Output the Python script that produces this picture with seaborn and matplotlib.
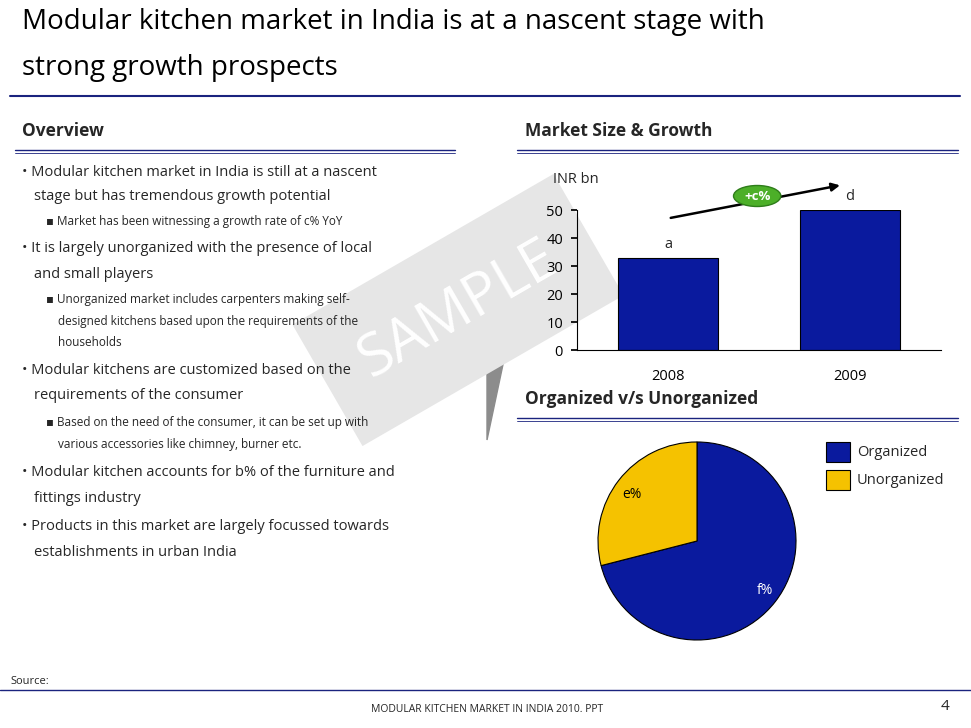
import matplotlib
matplotlib.use("Agg")
import matplotlib.pyplot as plt
import seaborn as sns
import pandas as pd
from matplotlib.patches import Polygon, Ellipse

years = ["2008", "2009"]
market_size = [33, 50]
bar_labels = ["a", "d"]
pie_labels = ["Organized", "Unorganized"]
pie_values = [71, 29]
pie_text = ["f%", "e%"]
growth_label = "+c%"

sns.set_theme(style="white")
plt.rcParams['font.family'] = ['Open Sans', 'DejaVu Sans']

W, H = 971, 728
fig = plt.figure(figsize=(9.71, 7.28), dpi=100)
def fx(x): return x / W
def fy(y): return 1 - y / H
navy = "#0a1a9e"

bg = fig.add_axes([0, 0, 1, 1], zorder=-5)
bg.set_xlim(0, W); bg.set_ylim(H, 0); bg.axis("off")
bg.text(458, 310, "SAMPLE", fontsize=42, rotation=30, color="white", ha="center", va="center",
        bbox=dict(boxstyle="square,pad=0.7", fc="#e6e6e6", ec="none"))
bg.add_patch(Polygon([[487, 282], [505, 355], [487, 440]], closed=True, color="#8c8c8c"))

fig.text(fx(22), fy(22), "Modular kitchen market in India is at a nascent stage with", fontsize=20, va="center", color="black")
fig.text(fx(22), fy(68), "strong growth prospects", fontsize=20, va="center", color="black")
fig.add_artist(plt.Line2D([fx(10), fx(960)], [fy(96), fy(96)], color="#1a237e", lw=1.5))

fig.text(fx(22), fy(131), "Overview", fontsize=12.5, weight="bold", va="center")
fig.text(fx(525), fy(131), "Market Size & Growth", fontsize=12.5, weight="bold", va="center")
fig.text(fx(525), fy(399), "Organized v/s Unorganized", fontsize=12.5, weight="bold", va="center")
for x0, x1, y in [(15, 455, 150), (517, 958, 150), (517, 958, 418)]:
    fig.add_artist(plt.Line2D([fx(x0), fx(x1)], [fy(y), fy(y)], color="#1a237e", lw=1))
    fig.add_artist(plt.Line2D([fx(x0), fx(x1)], [fy(y + 3), fy(y + 3)], color="#1a237e", lw=0.6))

lines = [
    (22, 172, "• Modular kitchen market in India is still at a nascent", 10.5),
    (34, 196, "stage but has tremendous growth potential", 10.5),
    (46, 221, "▪ Market has been witnessing a growth rate of c% YoY", 8.5),
    (22, 249, "• It is largely unorganized with the presence of local", 10.5),
    (34, 274, "and small players", 10.5),
    (46, 300, "▪ Unorganized market includes carpenters making self-", 8.5),
    (58, 322, "designed kitchens based upon the requirements of the", 8.5),
    (58, 343, "households", 8.5),
    (22, 371, "• Modular kitchens are customized based on the", 10.5),
    (34, 396, "requirements of the consumer", 10.5),
    (46, 422, "▪ Based on the need of the consumer, it can be set up with", 8.5),
    (58, 444, "various accessories like chimney, burner etc.", 8.5),
    (22, 472, "• Modular kitchen accounts for b% of the furniture and", 10.5),
    (34, 498, "fittings industry", 10.5),
    (22, 526, "• Products in this market are largely focussed towards", 10.5),
    (34, 553, "establishments in urban India", 10.5),
]
for x, y, t, s in lines:
    fig.text(fx(x), fy(y), t, fontsize=s, va="center")

ax = fig.add_axes([fx(577), fy(350), fx(941) - fx(577), fy(210) - fy(350)])
df = pd.DataFrame({"year": years, "size": market_size})
sns.barplot(data=df, x="year", y="size", ax=ax, color=navy, saturation=1, width=0.55,
            edgecolor="black", linewidth=0.8)
ax.set_xlim(-0.5, 1.5); ax.set_ylim(0, 50)
ax.set_yticks([0, 10, 20, 30, 40, 50])
ax.set_xlabel(""); ax.set_ylabel("")
for s in ["top", "right"]: ax.spines[s].set_visible(False)
for s in ["left", "bottom"]: ax.spines[s].set_color("black"); ax.spines[s].set_linewidth(0.8)
ax.tick_params(axis="y", left=True, length=4, labelsize=10.5, pad=6, colors="black")
ax.tick_params(axis="x", bottom=False, labelsize=10.5, pad=8, colors="black")
ax.patch.set_alpha(0)
for i, (v, l) in enumerate(zip(market_size, bar_labels)):
    ax.text(i, v + 2, l, ha="center", va="bottom", fontsize=10.5)
ax.text(-0.065, 1.22, "INR bn", transform=ax.transAxes, fontsize=10.5, va="center", ha="left")
ax.annotate("", xy=(0.73, 1.18), xytext=(0.25, 0.94), xycoords="axes fraction",
            arrowprops=dict(arrowstyle="-|>", color="black", lw=1.8), annotation_clip=False)
ax.add_patch(Ellipse((0.495, 1.10), 0.13, 0.15, transform=ax.transAxes, fc="#4caf28", ec="#2e7d1a", clip_on=False, zorder=5))
ax.text(0.495, 1.10, growth_label, transform=ax.transAxes, ha="center", va="center", color="white",
        fontsize=9.5, weight="bold", zorder=6)

axp = fig.add_axes([fx(597), fy(641), 200 / W, 200 / H])
axp.pie(pie_values, colors=[navy, "#f5c200"], startangle=90, counterclock=False,
        wedgeprops=dict(edgecolor="black", linewidth=0.8))
axp.set_xlim(-1.01, 1.01); axp.set_ylim(-1.01, 1.01)
axp.set_aspect("equal")
fig.text(fx(765), fy(590), pie_text[0], color="white", fontsize=10, ha="center", va="center")
fig.text(fx(632), fy(494), pie_text[1], color="black", fontsize=10, ha="center", va="center")
for i, (lab, col) in enumerate(zip(pie_labels, [navy, "#f5c200"])):
    y = 452 + 28 * i
    fig.add_artist(plt.Rectangle((fx(826), fy(y + 10)), 24 / W, 20 / H, transform=fig.transFigure,
                                 fc=col, ec="black", lw=0.8))
    fig.text(fx(857), fy(y), lab, fontsize=10.5, va="center")

fig.text(fx(10), fy(682), "Source:", fontsize=8, va="center")
fig.add_artist(plt.Line2D([fx(0), fx(971)], [fy(690), fy(690)], color="#1a237e", lw=1))
fig.text(fx(487), fy(709), "MODULAR KITCHEN MARKET IN INDIA 2010. PPT", fontsize=7.5, ha="center", va="center")
fig.text(fx(945), fy(706), "4", fontsize=11, ha="center", va="center")

fig.savefig("out.png", dpi=100)
